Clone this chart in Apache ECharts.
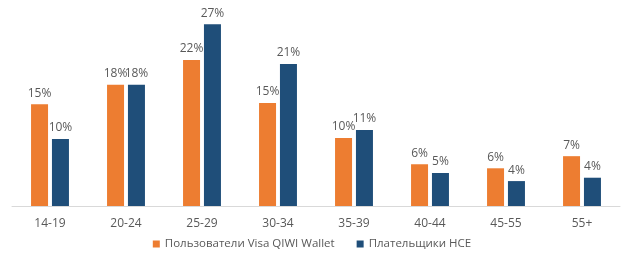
<!DOCTYPE html>
<html><head><meta charset="utf-8">
<script src="https://cdn.jsdelivr.net/npm/echarts@6/dist/echarts.min.js"></script>
<style>html,body{margin:0;padding:0;background:#fff}#c{width:624px;height:266px}</style>
</head><body><div id="c"></div>
<script>
const categories = ['14-19','20-24','25-29','30-34','35-39','40-44','45-55','55+'];
const seriesNames = ['Пользователи Visa QIWI Wallet','Плательщики HCE'];
const qiwiValues = [15.1, 18.0, 21.7, 15.3, 10.1, 6.2, 5.6, 7.4];
const hceValues = [9.95, 18.0, 27.0, 21.1, 11.3, 4.9, 3.7, 4.2];
const colors = ['#ED7D31', '#1F4E79'];

const font = 'Open Sans';
const labelCfg = {show:true, position:'top', distance:5, color:'#595959', fontSize:12, fontFamily:font,
  formatter: p => Math.round(p.value) + '%'};
const chart = echarts.init(document.getElementById('c'), null, {renderer:'canvas'});
chart.setOption({
  animation:false,
  grid:{left:12, right:4, top:4, bottom:60},
  legend:{bottom:11, left:'center', itemWidth:7, itemHeight:7, itemGap:22,
    textStyle:{color:'#595959', fontSize:11.5, fontFamily:font},
    data: seriesNames.map(n=>({name:n, icon:'rect'}))},
  xAxis:{type:'category', data:categories,
    axisLine:{lineStyle:{color:'#d9d9d9'}}, axisTick:{show:false},
    axisLabel:{color:'#595959', fontSize:12, fontFamily:font, margin:12}},
  yAxis:{type:'value', min:0, max:30, show:false, splitLine:{show:false}},
  series:[
    {name:seriesNames[0], type:'bar', data:qiwiValues, barWidth:17, barGap:'23%', itemStyle:{color:colors[0]}, label:labelCfg},
    {name:seriesNames[1], type:'bar', data:hceValues, barWidth:17, barGap:'23%', itemStyle:{color:colors[1]}, label:labelCfg}
  ]
});
</script></body></html>
